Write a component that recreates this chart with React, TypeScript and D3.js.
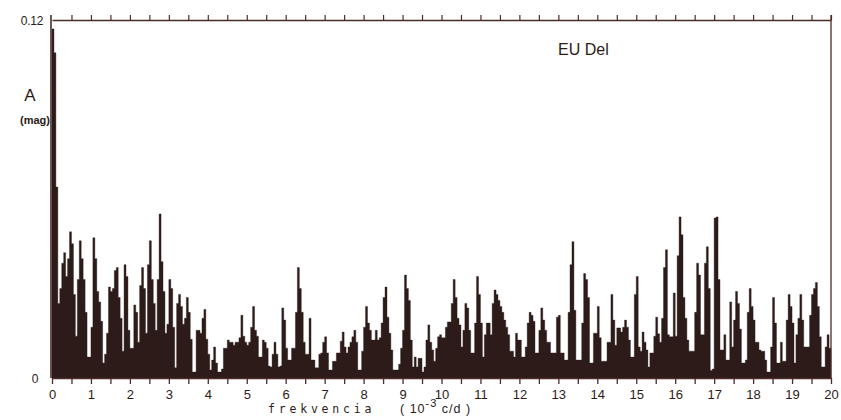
import React, { useEffect, useRef } from "react";
import * as d3 from "d3";

// periodogram of EU Del, amplitude in 10^-3 mag, one value per 0.05 x 10^-3 c/d bin
const W = 841;
const H = 420;
const margin = { left: 52, right: 10, top: 20, bottom: 42 };

const binWidth = 0.05;

// 0 - 5
const amp0to5 = [
  117, 109, 64, 25, 30, 38.5, 42, 34, 40, 49,
  45, 28, 14, 33, 46, 40, 33, 22, 7, 7,
  17, 47, 40, 29, 25.5, 19, 5, 8, 15, 30.5,
  29, 30, 36, 37, 27, 20, 9, 38, 34, 16,
  10, 10, 24.5, 22, 12, 31, 37, 30, 15, 38,
  46, 33, 25, 16, 33, 55, 39, 29, 15, 18,
  33, 30, 17, 3.4, 25, 28, 24, 18, 20, 27,
  22, 13, 2, 2, 16, 16, 15, 20, 23, 13,
  8, 2.7, 6, 10.4, 5, 2, 2, 3, 10, 10,
  12.7, 12, 12, 11, 12, 12, 13.5, 21, 14, 12,
];
// 5 - 10
const amp5to10 = [
  11, 12, 17, 24, 16, 14, 7, 7, 12.7, 12,
  10, 4, 3.7, 8, 12, 8, 3.7, 4, 23.5, 19.4,
  10, 6, 6, 10, 10, 22, 37, 30, 22, 12,
  8, 8, 20, 6, 6, 3.4, 3.4, 8, 8.4, 12,
  13.8, 8.4, 2.7, 2.7, 5.6, 5.6, 8.4, 8.4, 12.3, 15.4,
  10.4, 8.4, 10.4, 12, 13.8, 16, 12, 2.7, 2.7, 9,
  17, 24, 18.4, 16, 12.7, 12.7, 16, 12.7, 13.5, 18.4,
  27, 30.5, 20.4, 15, 9.4, 2.7, 2.7, 2.7, 4.6, 10,
  16, 34.5, 30, 26, 12.7, 3.7, 7, 3.7, 6.6, 6.6,
  2, 3.7, 12.7, 17.8, 12, 9.4, 5.6, 10, 13.8, 14.5,
];
// 10 - 15
const amp10to15 = [
  13.5, 13.5, 17, 18.8, 18.8, 25, 33, 27, 20, 17.8,
  10.4, 16, 25, 23.5, 16, 8.4, 8.4, 18.4, 34, 28,
  18.4, 7, 14.5, 18.4, 18.4, 14.5, 25, 29.5, 28, 26,
  24, 22, 19.4, 17, 14.5, 9, 9, 7, 15, 12.7,
  12.7, 7, 7, 10.4, 18.4, 22, 21, 19, 8.4, 8.4,
  16, 23.5, 19.4, 16, 12, 12, 8.4, 8.4, 8.4, 20.4,
  21, 8.4, 8.4, 6, 6, 22, 38, 45.7, 22.7, 6,
  6, 6, 18.4, 35, 33, 27, 5, 5, 15, 15,
  24, 13.5, 5.6, 5.6, 5.6, 12, 12, 28, 19.4, 11,
  16.8, 16.8, 15.4, 17, 19.4, 17, 12.7, 7, 7, 28,
];
// 15 - 20
const amp15to20 = [
  34, 10.4, 9, 15.4, 12, 9.4, 3.7, 8.4, 8.4, 14,
  20.4, 14.8, 12, 20, 37, 43, 14.5, 13.8, 13.8, 28.5,
  14, 41, 54, 48, 27, 20, 12.7, 9, 9, 9,
  22, 38.5, 34.5, 14.5, 14.5, 38.5, 44, 30, 2.5, 3,
  53.6, 54, 33, 9.4, 9.4, 14.5, 6, 6, 25.5, 10.4,
  19.4, 29, 25, 16.4, 5, 5, 6, 22, 30, 24,
  19.4, 12, 12, 9.4, 9, 9, 6, 2, 2, 10.4,
  27, 18.4, 5, 5, 12, 5.6, 5.6, 19.4, 28, 24,
  18.4, 5, 14.5, 20, 28, 19.4, 10.4, 10.4, 10.4, 21,
  28, 30, 32, 24, 13.8, 3.7, 3.7, 10.4, 14.5, 10,
];

const xMajorTicks = [0, 1, 2, 3, 4, 5, 6, 7, 8, 9, 10, 11, 12, 13, 14, 15, 16, 17, 18, 19, 20];
const yTickValues = [0, 0.12];
const yTickLabels = ["0", "0.12"];
const starName = "EU Del";

const ink = "#2c1b18";
const axisInk = "#4d2c28";
const sans = "'Liberation Sans', Arial, sans-serif";

const App = () => {
  const ref = useRef<SVGSVGElement>(null);

  useEffect(() => {
    const svg = d3.select(ref.current);
    svg.selectAll("*").remove();

    const amps: number[] = [...amp0to5, ...amp5to10, ...amp10to15, ...amp15to20];
    // step points: each bin starts at i*binWidth, last one closes at 20
    const pts = amps.map((a, i) => ({ f: i * binWidth, a: a / 1000 }));
    pts.push({ f: amps.length * binWidth, a: amps[amps.length - 1] / 1000 });

    const x = d3.scaleLinear().domain([0, 20]).range([margin.left, W - margin.right]);
    const y = d3.scaleLinear().domain([0, 0.12]).range([H - margin.bottom, margin.top]);
    const minorTicks = d3.range(0, 20.001, 0.5);

    const area = d3
      .area<any>()
      .x((d) => x(d.f))
      .y0(y(0))
      .y1((d) => y(d.a))
      .curve(d3.curveStepAfter);

    svg.append("path").datum(pts).attr("d", area).attr("fill", ink).attr("stroke", ink).attr("stroke-width", 0.4);

    // bottom axis
    const bottom = svg
      .append("g")
      .attr("transform", `translate(0, ${y(0)})`)
      .call(
        d3
          .axisBottom(x)
          .tickValues(minorTicks)
          .tickSizeInner(6)
          .tickSizeOuter(0)
          .tickPadding(6)
          .tickFormat((d: any) => (xMajorTicks.includes(d) ? String(d) : ""))
      );
    bottom.selectAll("line").attr("stroke", axisInk).attr("stroke-width", 1.3);
    bottom.select(".domain").attr("stroke", axisInk).attr("stroke-width", 1.3);
    bottom
      .selectAll("text")
      .attr("fill", ink)
      .style("font-family", sans)
      .style("font-size", "13px");

    // top axis
    const top = svg
      .append("g")
      .attr("transform", `translate(0, ${y(0.12)})`)
      .call(d3.axisTop(x).tickValues(minorTicks.slice(1)).tickSizeInner(5).tickSizeOuter(0).tickFormat(() => ""));
    top.selectAll("line").attr("stroke", axisInk).attr("stroke-width", 1.2);
    top.select(".domain").attr("stroke", axisInk).attr("stroke-width", 1.4);

    // side frame lines
    svg
      .append("line")
      .attr("x1", x(0) - 1)
      .attr("x2", x(0) - 1)
      .attr("y1", y(0.12) - 5)
      .attr("y2", y(0))
      .attr("stroke", axisInk)
      .attr("stroke-width", 1.6);
    svg
      .append("line")
      .attr("x1", x(20))
      .attr("x2", x(20))
      .attr("y1", y(0.12) - 5)
      .attr("y2", y(0))
      .attr("stroke", axisInk)
      .attr("stroke-width", 1.3);

    // y labels
    svg
      .selectAll(".ylab")
      .data(yTickValues)
      .join("text")
      .attr("class", "ylab")
      .attr("x", (d: number, i: number) => (i === 0 ? 38 : 43))
      .attr("y", (d: number) => y(d) + 4.5)
      .attr("text-anchor", "end")
      .attr("fill", ink)
      .style("font-family", sans)
      .style("font-size", "12px")
      .style("letter-spacing", "-0.3px")
      .text((d: number, i: number) => yTickLabels[i]);

    svg
      .append("text")
      .attr("x", 30)
      .attr("y", 101)
      .attr("text-anchor", "middle")
      .attr("fill", ink)
      .style("font-family", sans)
      .style("font-size", "17px")
      .text("A");
    svg
      .append("text")
      .attr("x", 35)
      .attr("y", 124)
      .attr("text-anchor", "middle")
      .attr("fill", ink)
      .style("font-family", sans)
      .style("font-size", "11px")
      .style("font-weight", "bold")
      .text("(mag)");

    // star name
    svg
      .append("text")
      .attr("x", 558)
      .attr("y", 55)
      .attr("fill", ink)
      .style("font-family", sans)
      .style("font-size", "16px")
      .text(starName);

    // x axis title
    svg
      .append("text")
      .attr("x", 268)
      .attr("y", 413)
      .attr("fill", ink)
      .style("font-family", "'DejaVu Sans Mono', monospace")
      .style("font-size", "11.5px")
      .style("letter-spacing", "3.8px")
      .text("frekvencia");
    const unit = svg
      .append("text")
      .attr("x", 400)
      .attr("y", 413)
      .attr("fill", ink)
      .attr("xml:space", "preserve")
      .style("font-family", sans)
      .style("font-size", "12.5px")
      .style("letter-spacing", "1px");
    unit.append("tspan").text("( 10");
    unit.append("tspan").attr("dy", -6).style("font-size", "11px").text("-3");
    unit.append("tspan").attr("dy", 6).text(" c/d )");
  }, []);

  return (
    <svg
      ref={ref}
      width={W}
      height={H}
      viewBox={`0 0 ${W} ${H}`}
      style={{ position: "absolute", left: 0, top: 0, background: "#fff" }}
    ></svg>
  );
};

export default App;
